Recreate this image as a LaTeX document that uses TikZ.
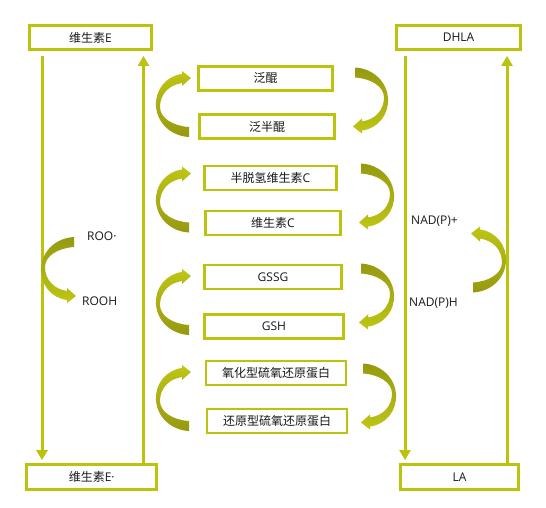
\documentclass[tikz,border=0pt]{standalone}
\usepackage{fontspec}
\setmainfont{Open Sans}
\newfontfamily\cjk{Noto Sans CJK SC}
\usetikzlibrary{arrows.meta}
\definecolor{boxgreen}{HTML}{BCC30F}
\definecolor{olivedark}{HTML}{969910}
\definecolor{olivebright}{HTML}{BEC613}
\newcommand{\zh}[1]{{\cjk #1}}
\tikzset{
  box/.style={draw=boxgreen,line width=2.8pt,fill=white,minimum height=24pt,
    inner sep=0pt,font=\fontsize{12}{14}\selectfont,text=black!90},
  flow/.style={draw=boxgreen,line width=3pt,-{Triangle[width=11pt,length=10pt]}},
  lbl/.style={font=\fontsize{12}{14}\selectfont,text=black!90,anchor=west,inner sep=0pt},
  pics/bend/.style={code={
    \path[pic actions] (-9,-4) .. controls (-25,-2) and (-36,12) .. (-35,28)
      .. controls (-34,45) and (-20,58) .. (-2,59) -- (-2,49)
      .. controls (-18,48) and (-31,40) .. (-31,29)
      .. controls (-31,16) and (-22,7) .. (-9,5) -- (-9,8) -- (0,0) -- (-9,-7) -- cycle;
  }}
}
\begin{document}
\begin{tikzpicture}[x=1pt,y=-1pt]
  \useasboundingbox[fill=white] (0,0) rectangle (546,507);
  % outer columns
  \node[box,minimum width=122pt] (vEtop) at (90.5,37.5) {\zh{维生素}E};
  \node[box,minimum width=130pt,minimum height=25pt] (vEbot) at (91.75,477) {\zh{维生素}E·};
  \node[box,minimum width=124pt] (dhla) at (458.5,37.5) {DHLA};
  \node[box,minimum width=118pt,minimum height=25pt] (la) at (459.5,477) {LA};
  \draw[flow,shorten <=5pt,shorten >=3pt] ([xshift=-48.5pt]vEtop.south) -- ([xshift=-48.5pt]vEtop.south |- vEbot.north);
  \draw[flow,shorten >=5pt] ([xshift=53pt]vEtop.south |- vEbot.north) -- ([xshift=53pt]vEtop.south);
  \draw[flow,shorten <=5pt,shorten >=3pt] ([xshift=-53.5pt]dhla.south) -- ([xshift=-53.5pt]dhla.south |- la.north);
  \draw[flow,shorten >=5pt] ([xshift=48.5pt]dhla.south |- la.north) -- ([xshift=48.5pt]dhla.south);
  % middle pairs
  \node[box,minimum width=134pt] (ubq) at (265.5,78.5) {\zh{泛醌}};
  \node[box,minimum width=135pt] (sq) at (267,126.5) {\zh{泛半醌}};
  \node[box,minimum width=132pt] (dhc) at (270.5,178) {\zh{半脱氢维生素}C};
  \node[box,minimum width=135pt] (vc) at (273,223) {\zh{维生素}C};
  \node[box,minimum width=137pt] (gssg) at (273,277) {GSSG};
  \node[box,minimum width=139pt] (gsh) at (274,326.5) {GSH};
  \node[box,minimum width=140pt] (trxo) at (276,373) {\zh{氧化型硫氧还原蛋白}};
  \node[box,minimum width=140pt] (trxr) at (277,421) {\zh{还原型硫氧还原蛋白}};
  % curved arrows
  \foreach \y in {78,173.5,276,372}
    {\pic[top color=olivebright,bottom color=olivedark] at (191,\y) {bend};}
  \foreach \x/\y in {353/126.5,359/222.5,359/322.5,361/422.5}
    {\pic[top color=olivedark,bottom color=olivebright,xscale=-1,yscale=-1] at (\x,\y) {bend};}
  \pic[top color=olivedark,bottom color=olivebright,yscale=-1] at (76,296) {bend};
  \pic[top color=olivebright,bottom color=olivedark,xscale=-1] at (471,233.5) {bend};
  % side labels
  \node[lbl] (roo) at (87,236) {ROO·};
  \node[lbl] (rooh) at (82,301) {ROOH};
  \node[lbl] (nadp) at (411,221) {NAD(P)+};
  \node[lbl] (nadph) at (409,303) {NAD(P)H};
\end{tikzpicture}
\end{document}
